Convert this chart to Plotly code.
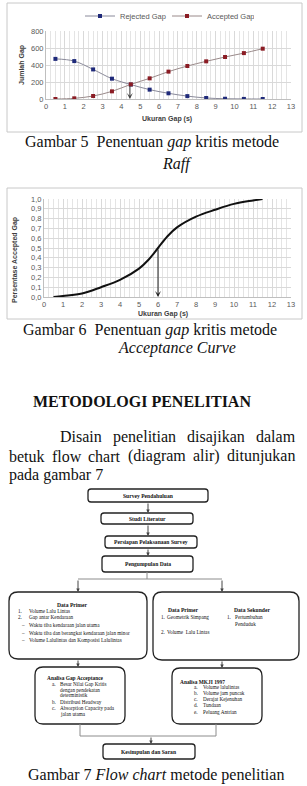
import plotly.graph_objects as go

W, H = 307, 786


def X(px):
    return px / W


def Y(py):
    return 1 - py / H


# ---------------- data ----------------
# Figure 5 (Raff method)
gap_mid = [0.5, 1.5, 2.5, 3.5, 4.5, 5.5, 6.5, 7.5, 8.5, 9.5, 10.5, 11.5]
rejected_gap = [472, 446, 348, 239, 170, 110, 67, 34, 12, 3, 1, 0]
accepted_gap = [0, 8, 35, 90, 172, 243, 322, 388, 443, 494, 540, 592]
raff_critical = 4.45
x_ticks_1 = list(range(0, 14))
y_ticks_1 = [0, 200, 400, 600, 800]

# Figure 6 (acceptance curve)
acc_x = [0.5, 1, 2, 3, 4, 5, 5.5, 6, 6.5, 7, 8, 9, 10, 11, 11.5]
acc_y = [0.0, 0.01, 0.035, 0.10, 0.175, 0.29, 0.38, 0.50, 0.62, 0.71, 0.82, 0.89, 0.95, 0.985, 1.0]
acc_critical = 6.0
y_ticks_2 = [0, 0.1, 0.2, 0.3, 0.4, 0.5, 0.6, 0.7, 0.8, 0.9, 1.0]
y_ticktext_2 = ["0,0", "0,1", "0,2", "0,3", "0,4", "0,5", "0,6", "0,7", "0,8", "0,9", "1,0"]

SANS = "Liberation Sans"
SERIF = "Liberation Serif"
TICK = "#595959"
GRID = "#d9d9d9"

fig = go.Figure()

fig.add_trace(go.Scatter(x=gap_mid, y=rejected_gap, name="Rejected Gap", mode="lines+markers",
                         line=dict(color="#8a8a9a", width=1, shape="spline"),
                         marker=dict(symbol="square", size=4, color="#1f2a7a"),
                         xaxis="x", yaxis="y"))
fig.add_trace(go.Scatter(x=gap_mid, y=accepted_gap, name="Accepted Gap", mode="lines+markers",
                         line=dict(color="#9a8a8a", width=1, shape="spline"),
                         marker=dict(symbol="square", size=4, color="#8b1c24"),
                         xaxis="x", yaxis="y"))
fig.add_trace(go.Scatter(x=acc_x, y=acc_y, mode="lines", showlegend=False,
                         line=dict(color="#111111", width=2, shape="spline"),
                         xaxis="x2", yaxis="y2"))

axis_common = dict(showgrid=True, gridcolor=GRID, gridwidth=1, zeroline=False,
                   showline=True, linecolor="#bfbfbf", linewidth=1, ticks="",
                   tickfont=dict(family=SANS, size=7.5, color=TICK), fixedrange=True)

fig.update_layout(
    width=W, height=H, margin=dict(l=0, r=0, t=0, b=0, autoexpand=False),
    paper_bgcolor="white", plot_bgcolor="white",
    xaxis=dict(domain=[X(46), X(291)], range=[0, 13], tickvals=x_ticks_1,
               minor=dict(dtick=0.25, showgrid=True, gridcolor="#e4e4e4", ticks=""),
               anchor="y", **axis_common),
    yaxis=dict(domain=[Y(99), Y(31)], range=[0, 800], tickvals=y_ticks_1,
               anchor="x", **axis_common),
    xaxis2=dict(domain=[X(44), X(291)], range=[0, 13], tickvals=x_ticks_1,
                minor=dict(dtick=0.25, showgrid=True, gridcolor="#e4e4e4", ticks=""),
                anchor="y2", **axis_common),
    yaxis2=dict(domain=[Y(297), Y(199)], range=[0, 1], tickvals=y_ticks_2,
                ticktext=y_ticktext_2, anchor="x2", **axis_common),
    legend=dict(orientation="h", x=X(80), y=Y(16), xanchor="left", yanchor="middle",
                font=dict(family=SANS, size=7.5, color=TICK), itemwidth=30,
                entrywidth=42, entrywidthmode="pixels",
                bgcolor="rgba(0,0,0,0)", tracegroupgap=0),
    showlegend=True,
)

shapes = []
annots = []

# chart frames
shapes.append(dict(type="rect", xref="paper", yref="paper", x0=X(7), x1=X(302), y0=Y(132), y1=Y(3),
                   line=dict(color="#c8c8c8", width=1)))
shapes.append(dict(type="rect", xref="paper", yref="paper", x0=X(7), x1=X(302), y0=Y(319), y1=Y(188),
                   line=dict(color="#c8c8c8", width=1)))

# critical gap arrows (data coordinates)
annots.append(dict(x=raff_critical, y=0, ax=raff_critical, ay=rejected_gap[4], xref="x", yref="y",
                   axref="x", ayref="y", showarrow=True, arrowhead=3, arrowsize=1, arrowwidth=1,
                   arrowcolor="#404040", text=""))
annots.append(dict(x=acc_critical, y=0, ax=acc_critical, ay=acc_y[7], xref="x2", yref="y2",
                   axref="x2", ayref="y2", showarrow=True, arrowhead=3, arrowsize=1, arrowwidth=1,
                   arrowcolor="#202020", text=""))


def txt(s, px, py, size=16, family=SERIF, anchor="center", color="#111111", angle=0, yanchor="middle"):
    annots.append(dict(text=s, x=X(px), y=Y(py), xref="paper", yref="paper", showarrow=False,
                       xanchor=anchor, yanchor=yanchor, textangle=angle,
                       font=dict(family=family, size=size, color=color)))


# axis titles
txt("<b>Jumlah Gap</b>", 22, 65, size=7, family=SANS, color="#404040", angle=-90)
txt("<b>Ukuran Gap (s)</b>", 167, 119, size=7, family=SANS, color="#404040")
txt("<b>Persentase Accepted Gap</b>", 15, 260, size=7, family=SANS, color="#404040", angle=-90)
txt("<b>Ukuran Gap (s)</b>", 163, 314, size=7, family=SANS, color="#404040")

# captions and body text
txt("Gambar 5\u00a0 Penentuan <i>gap</i> kritis metode", 152, 142)
txt("<i>Raff</i>", 177, 164)
txt("Gambar 6\u00a0 Penentuan <i>gap</i> kritis metode", 150, 330)
txt("<i>Acceptance Curve</i>", 177, 348)
txt("<b>METODOLOGI PENELITIAN</b>", 142, 402)

# justified paragraph (Times metrics, per 1000 em)
TW = dict(a=444, b=500, c=444, d=500, e=444, f=333, g=500, h=500, i=278, j=278, k=500, l=278,
          m=778, n=500, o=500, p=500, q=500, r=333, s=389, t=278, u=500, v=500, w=722, x=500,
          y=500, z=444)
TW.update({"(": 333, ")": 333, "D": 722, "7": 500})


def justify(words, x0, x1, py, fs=16):
    widths = [sum(TW.get(ch, 500) for ch in w) * fs / 1000 for w in words]
    gap = (x1 - x0 - sum(widths)) / (len(words) - 1)
    cur = x0
    for w, wd in zip(words, widths):
        txt(w, cur, py, size=fs, anchor="left")
        cur += wd + gap


justify(["Disain", "penelitian", "disajikan", "dalam"], 58, 293, 437)
justify(["betuk", "flow", "chart", "(diagram", "alir)", "ditunjukan"], 7, 293, 456)
txt("pada gambar 7", 7, 475, anchor="left")
txt("Gambar 7 <i>Flow chart</i> metode penelitian", 156, 775)


# ---------------- flowchart ----------------
def rrect(x0, y0, x1, y1, r, width=1.3):
    rx, ry = r / W, r / H
    X0, X1, Yt, Yb = X(x0), X(x1), Y(y0), Y(y1)
    p = (f"M{X0+rx},{Yt} L{X1-rx},{Yt} Q{X1},{Yt} {X1},{Yt-ry} "
         f"L{X1},{Yb+ry} Q{X1},{Yb} {X1-rx},{Yb} L{X0+rx},{Yb} Q{X0},{Yb} {X0},{Yb+ry} "
         f"L{X0},{Yt-ry} Q{X0},{Yt} {X0+rx},{Yt} Z")
    shapes.append(dict(type="path", path=p, xref="paper", yref="paper",
                       line=dict(color="#222222", width=width)))


def seg(x0, y0, x1, y1):
    shapes.append(dict(type="line", xref="paper", yref="paper", x0=X(x0), y0=Y(y0), x1=X(x1), y1=Y(y1),
                       line=dict(color="#8c8c8c", width=1)))


def arrow(px, y_from, y_to):
    annots.append(dict(x=X(px), y=Y(y_to), xref="paper", yref="paper", ax=0, ay=-(y_to - y_from),
                       showarrow=True, arrowhead=2, arrowsize=0.7, arrowwidth=1,
                       arrowcolor="#444444", text=""))


rrect(88, 489, 208, 502, 3)
rrect(101, 513, 193, 524, 3)
rrect(105, 536, 197, 548, 3)
rrect(102, 556, 193, 572, 3)
rrect(9, 592, 147, 659, 9)
rrect(153, 592, 299, 660, 9)
rrect(35, 667, 125, 724, 8)
rrect(172, 668, 262, 724, 8)
rrect(103, 744, 195, 759, 3)

arrow(148, 502, 513)
arrow(148, 524, 536)
arrow(148, 548, 556)
seg(147, 572, 147, 579)
seg(78, 579, 222, 579)
arrow(78, 579, 592)
arrow(222, 579, 592)
arrow(78, 659, 667)
arrow(222, 660, 668)
seg(80, 724, 80, 736)
seg(216, 724, 216, 736)
seg(80, 736, 216, 736)
arrow(151, 736, 744)

FS = 5.2
txt("<b>Survey Pendahuluan</b>", 148, 495.5, size=5.6)
txt("<b>Studi Literatur</b>", 147, 518.5, size=5.6)
txt("<b>Persiapan Pelaksanaan Survey</b>", 151, 542, size=5.6)
txt("<b>Pengumpulan Data</b>", 147.5, 564, size=5.6)

txt("<b>Data Primer</b>", 72, 605, size=5.6)
left_items = [("1.", "Volume Lalu Lintas", 16, 611), ("2.", "Gap antar Kendaraan", 16, 617),
              ("–", "Waktu tiba kendaraan jalan utama", 19, 625),
              ("–", "Waktu tiba dan berangkat kendaraan jalan minor", 19, 633),
              ("–", "Volume Lalulintas dan Komposisi Lalulintas", 19, 640)]
for mk, s, mx, py in left_items:
    txt(mk, mx, py, size=FS, anchor="left")
    txt(s, 27, py, size=FS, anchor="left")

txt("<b>Data Primer</b>", 183, 610, size=5.6)
txt("<b>Data Sekunder</b>", 252, 610, size=5.6)
txt("1.", 159, 617, size=FS, anchor="left")
txt("Geometrik Simpang", 165, 617, size=FS, anchor="left")
txt("2.", 159, 632, size=FS, anchor="left")
txt("Volume\u00a0 Lalu Lintas", 165, 632, size=FS, anchor="left")
txt("1.", 225, 617, size=FS, anchor="left")
txt("Pertumbuhan", 233, 617, size=FS, anchor="left")
txt("Penduduk", 233, 624, size=FS, anchor="left")

txt("<b>Analisa Gap Acceptance</b>", 45, 678, size=5.4, anchor="left")
gap_items = [("a.", "Besar Nilai Gap Kritis", 684), ("", "dengan pendekatan", 690),
             ("", "deterministik", 695), ("b.", "Distribusi Headway", 702),
             ("c.", "Absorption Capacity pada", 708), ("", "jalan utama", 714)]
for mk, s, py in gap_items:
    if mk:
        txt(mk, 50, py, size=FS, anchor="left")
    txt(s, 58, py, size=FS, anchor="left")

txt("<b>Analisa MKJI 1997</b>", 178, 682, size=5.4, anchor="left")
mkji_items = [("a.", "Volume lalulintas", 687), ("b.", "Volume jam puncak", 693),
              ("c.", "Derajat Kejenuhan", 699), ("d.", "Tundaan", 705), ("e.", "Peluang Antrian", 712)]
for mk, s, py in mkji_items:
    txt(mk, 192, py, size=FS, anchor="left")
    txt(s, 201, py, size=FS, anchor="left")

txt("<b>Kesimpulan dan Saran</b>", 149, 751.5, size=5.6)

fig.update_layout(shapes=shapes, annotations=annots)
fig.write_html("out.html")
